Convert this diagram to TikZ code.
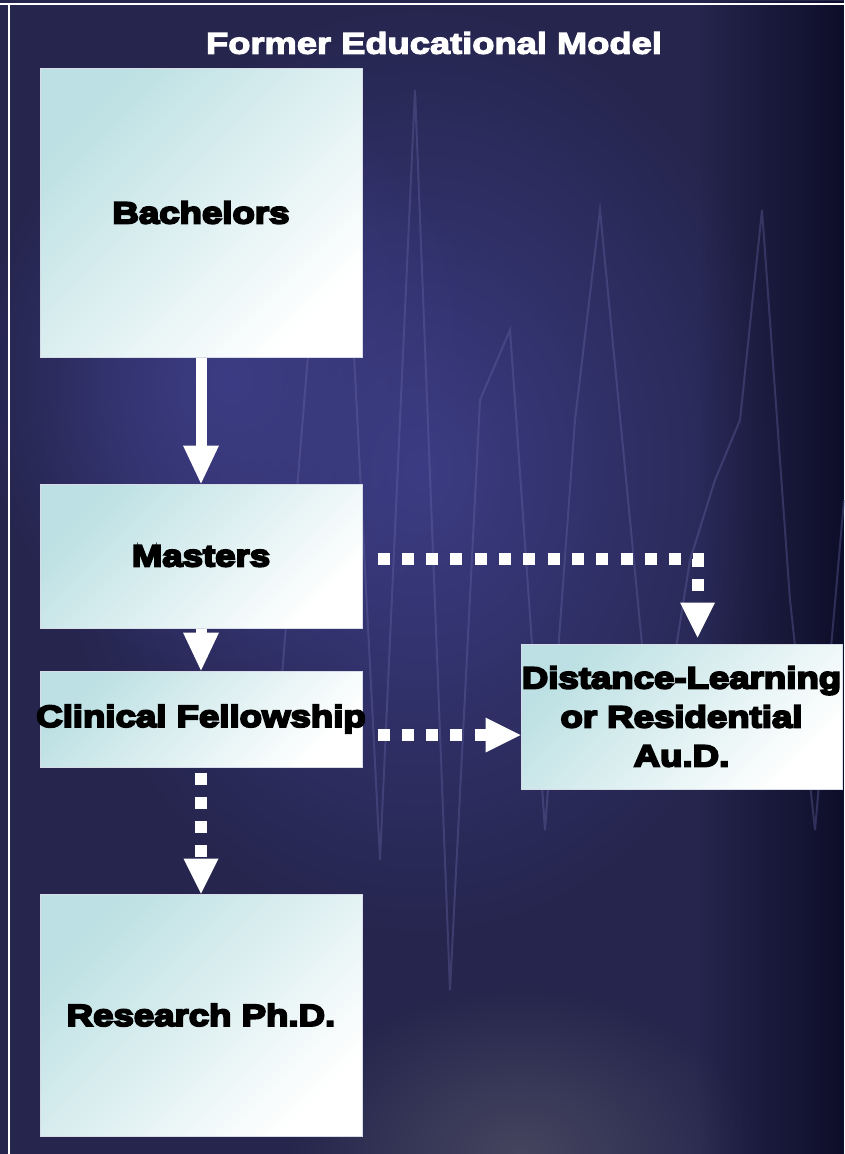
\documentclass[tikz,border=0pt]{standalone}
\usepackage{fontspec}
\usetikzlibrary{arrows.meta,calc,fadings}
\newfontfamily\heavy[FakeStretch=1.2,FakeBold=6.5]{Liberation Sans Bold}
\newfontfamily\titlefont[FakeStretch=1.21,FakeBold=4]{Liberation Sans Bold}
\definecolor{bgbase}{HTML}{25254D}
\definecolor{bgglow}{HTML}{3C3C84}
\definecolor{bgdark}{HTML}{0E0E2A}
\definecolor{bgbottom}{HTML}{45455F}
\definecolor{wavec}{HTML}{6A6AAA}
\definecolor{boxc}{HTML}{BCE0E3}
\definecolor{boxline}{HTML}{D8DCE8}
\tikzfading[name=softglow, inner color=transparent!0, outer color=transparent!100]
\tikzfading[name=rightdark, left color=transparent!100, right color=transparent!0]
\tikzset{
  stagebox/.style={draw=boxline, line width=1pt, top color=boxc, bottom color=white,
    shading angle=45, inner sep=0pt, font={\heavy\fontsize{30.5}{39}\selectfont}, text=black},
  solidarrow/.style={draw=white, line width=11pt, -{Triangle[width=36pt,length=38pt,line width=0pt]}},
  dotarrow/.style={draw=white, line width=12pt, dash pattern=on 12pt off 12.3pt,
    -{Triangle[width=35pt,length=35pt,line width=0pt]}},
}
\begin{document}
\begin{tikzpicture}[x=1pt,y=-1pt]
\useasboundingbox (0,0) rectangle (844,1154);
% background
\fill[bgbase] (0,0) rectangle (844,1154);
\fill[bgglow, path fading=softglow, fit fading=true] (420,470) ellipse (380 and 480);
\fill[bgglow, path fading=softglow, fit fading=true] (230,380) ellipse (260 and 300);
\fill[bgbottom, path fading=softglow, fit fading=true] (520,1154) ellipse (240 and 170);
\fill[bgdark, path fading=rightdark, fit fading=true] (700,0) rectangle (844,1154);
\draw[wavec, opacity=0.35, line width=2pt]
  (280,700) -- (310,330) -- (345,180) -- (380,860) -- (415,90) -- (450,990) -- (480,400)
  -- (510,330) -- (545,830) -- (575,420) -- (600,210) -- (630,520) -- (655,780)
  -- (690,560) -- (715,480) -- (740,420) -- (762,210) -- (790,600) -- (815,830) -- (844,500);
% frame
\draw[white, line width=1.5pt] (0,4) -- (844,4);
\draw[white, line width=1.5pt] (9,4) -- (9,1154);
% title
\node[text=white, font={\titlefont\fontsize{30}{36}\selectfont}] (title) at (434,43) {Former Educational Model};
% boxes
\node[stagebox, minimum width=322pt, minimum height=289pt] (bach) at (201,212.5) {Bachelors};
\node[stagebox, minimum width=322pt, minimum height=144pt] (mast) at (201,556) {Masters};
\node[stagebox, minimum width=322pt, minimum height=96pt] (clin) at (201,719) {\makebox[0pt][c]{Clinical Fellowship}};
\node[stagebox, minimum width=322pt, minimum height=242pt] (res) at (201,1015) {Research Ph.D.};
\node[stagebox, minimum width=321pt, minimum height=145pt, align=center] (dist) at (681.5,716.5)
  {Distance-Learning\\or Residential\\Au.D.};
% connectors
\draw[solidarrow] (bach.south) -- (mast.north);
\draw[solidarrow] (mast.south) -- (clin.north);
\draw[dotarrow, shorten <=5pt] (clin.south) -- (res.north);
\coordinate (c1) at ($(clin.east)+(0,16)$);
\draw[dotarrow, shorten <=15pt] (c1) -- (c1 -| dist.west);
\coordinate (m1) at ($(mast.east)+(0,3)$);
\coordinate (m2) at (697.5,559);
\draw[dotarrow, shorten <=15pt, shorten >=6pt] (m1) -- (m2) -- (m2 |- dist.north);
\end{tikzpicture}
\end{document}
